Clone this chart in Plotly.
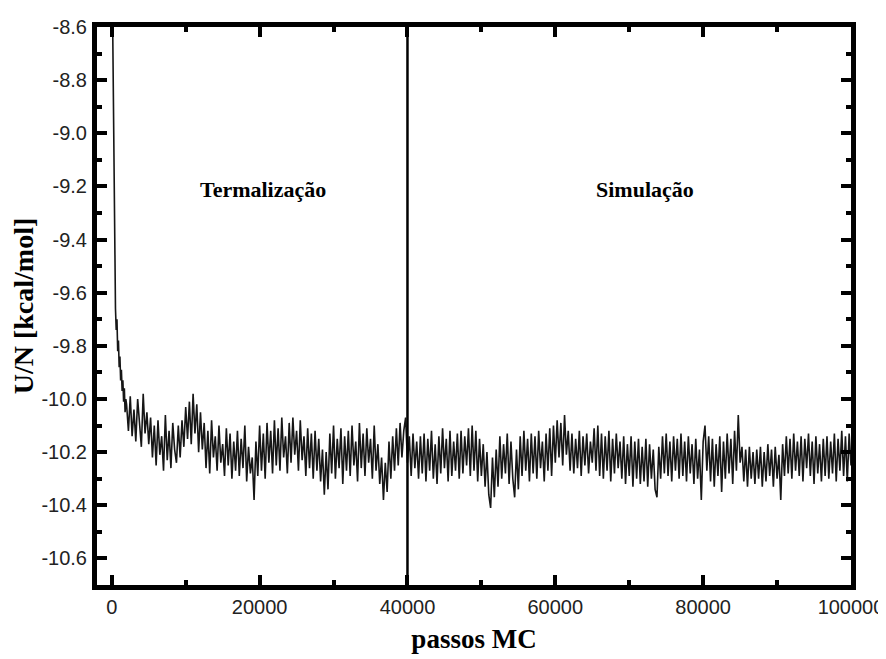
import plotly.graph_objects as go

# Energia por molécula ao longo dos passos de Monte Carlo

# início da corrida: queda rápida da energia
passos_inicio = [0, 100, 200, 300, 400, 500, 600, 700, 800, 900,
                 1000, 1100, 1200, 1300, 1400, 1500, 1600, 1700, 1800, 1900]
energia_inicio = [-8.25, -8.60, -8.95, -9.30, -9.60, -9.66, -9.74, -9.70, -9.82, -9.78,
                  -9.88, -9.84, -9.93, -9.89, -9.97, -9.93, -10.01, -9.96, -10.05, -10.00]

# resto da corrida, um valor a cada 250 passos a partir de 2000
passo_amostra = 250
passo_primeiro = 2000
energia_resto = [
    # 2000 - 6750
    -10.02, -10.12, -9.99, -10.14, -10.04, -10.16, -10.00, -10.11, -10.18, -9.98,
    -10.13, -10.05, -10.17, -10.07, -10.22, -10.10, -10.25, -10.08, -10.21, -10.14,
    # 7000 - 11750
    -10.27, -10.06, -10.23, -10.12, -10.26, -10.09, -10.19, -10.24, -10.10, -10.22,
    -10.08, -10.18, -10.03, -10.15, -10.01, -10.17, -9.98, -10.13, -10.02, -10.20,
    # 12000 - 16750
    -10.05, -10.19, -10.09, -10.26, -10.12, -10.28, -10.08, -10.22, -10.14, -10.27,
    -10.10, -10.24, -10.17, -10.29, -10.11, -10.25, -10.13, -10.30, -10.16, -10.27,
    # 17000 - 21750
    -10.12, -10.29, -10.15, -10.26, -10.10, -10.31, -10.18, -10.28, -10.22, -10.38,
    -10.16, -10.29, -10.10, -10.27, -10.13, -10.30, -10.09, -10.24, -10.12, -10.28,
    # 22000 - 26750
    -10.08, -10.25, -10.11, -10.27, -10.07, -10.22, -10.14, -10.28, -10.09, -10.24,
    -10.07, -10.21, -10.12, -10.27, -10.08, -10.23, -10.14, -10.29, -10.11, -10.26,
    # 27000 - 31750
    -10.13, -10.30, -10.12, -10.27, -10.15, -10.31, -10.19, -10.36, -10.20, -10.34,
    -10.13, -10.28, -10.10, -10.30, -10.15, -10.26, -10.11, -10.32, -10.14, -10.27,
    # 32000 - 36750
    -10.12, -10.29, -10.10, -10.25, -10.16, -10.31, -10.09, -10.26, -10.13, -10.29,
    -10.11, -10.24, -10.15, -10.30, -10.10, -10.27, -10.17, -10.32, -10.22, -10.38,
    # 37000 - 41750
    -10.24, -10.35, -10.16, -10.30, -10.14, -10.27, -10.11, -10.25, -10.09, -10.22,
    -10.12, -10.07, -10.24, -10.14, -10.29, -10.13, -10.26, -10.16, -10.30, -10.14,
    # 42000 - 46750
    -10.28, -10.13, -10.31, -10.15, -10.27, -10.12, -10.30, -10.17, -10.32, -10.14,
    -10.28, -10.11, -10.26, -10.15, -10.31, -10.12, -10.29, -10.16, -10.27, -10.13,
    # 47000 - 51750
    -10.30, -10.12, -10.28, -10.14, -10.25, -10.11, -10.29, -10.10, -10.27, -10.12,
    -10.31, -10.15, -10.29, -10.17, -10.33, -10.20, -10.36, -10.41, -10.22, -10.37,
    # 52000 - 56750
    -10.19, -10.33, -10.14, -10.30, -10.17, -10.28, -10.13, -10.32, -10.16, -10.30,
    -10.37, -10.19, -10.34, -10.14, -10.29, -10.12, -10.27, -10.15, -10.31, -10.13,
    # 57000 - 61750
    -10.28, -10.14, -10.30, -10.12, -10.26, -10.16, -10.31, -10.13, -10.27, -10.11,
    -10.29, -10.10, -10.24, -10.08, -10.22, -10.09, -10.25, -10.06, -10.21, -10.12,
    # 62000 - 66750
    -10.27, -10.13, -10.28, -10.15, -10.26, -10.12, -10.29, -10.14, -10.25, -10.13,
    -10.28, -10.16, -10.24, -10.11, -10.27, -10.10, -10.29, -10.13, -10.30, -10.14,
    # 67000 - 71750
    -10.27, -10.12, -10.31, -10.15, -10.28, -10.13, -10.26, -10.16, -10.30, -10.14,
    -10.32, -10.17, -10.29, -10.14, -10.33, -10.16, -10.30, -10.15, -10.32, -10.18,
    # 72000 - 76750
    -10.31, -10.15, -10.33, -10.17, -10.30, -10.19, -10.34, -10.37, -10.18, -10.30,
    -10.14, -10.28, -10.13, -10.29, -10.16, -10.31, -10.14, -10.27, -10.15, -10.30,
    # 77000 - 81750
    -10.13, -10.29, -10.16, -10.31, -10.14, -10.28, -10.17, -10.32, -10.15, -10.30,
    -10.19, -10.38, -10.16, -10.10, -10.27, -10.14, -10.31, -10.15, -10.33, -10.17,
    # 82000 - 86750
    -10.29, -10.14, -10.35, -10.16, -10.30, -10.13, -10.28, -10.15, -10.32, -10.12,
    -10.27, -10.06, -10.24, -10.18, -10.31, -10.19, -10.33, -10.18, -10.30, -10.20,
    # 87000 - 91750
    -10.32, -10.19, -10.30, -10.18, -10.33, -10.20, -10.31, -10.17, -10.29, -10.19,
    -10.33, -10.18, -10.30, -10.21, -10.38, -10.17, -10.29, -10.14, -10.28, -10.15,
    # 92000 - 96750
    -10.30, -10.13, -10.27, -10.16, -10.29, -10.14, -10.31, -10.15, -10.26, -10.13,
    -10.29, -10.16, -10.32, -10.14, -10.28, -10.17, -10.31, -10.15, -10.29, -10.14,
    # 97000 - 100000
    -10.30, -10.16, -10.28, -10.13, -10.31, -10.15, -10.27, -10.12, -10.29, -10.14,
    -10.31, -10.13, -10.25,
]

fim_termalizacao = 40000

x_ticks = [0, 20000, 40000, 60000, 80000, 100000]
x_ticktext = ["0", "20000", "40000", "60000", "80000", "100000"]
y_ticks = [-8.6, -8.8, -9.0, -9.2, -9.4, -9.6, -9.8, -10.0, -10.2, -10.4, -10.6]
y_ticktext = ["-8.6", "-8.8", "-9.0", "-9.2", "-9.4", "-9.6", "-9.8",
              "-10.0", "-10.2", "-10.4", "-10.6"]

passos_resto = [passo_primeiro + passo_amostra * i for i in range(len(energia_resto))]
passos = passos_inicio + passos_resto
energia = energia_inicio + energia_resto

serif = "Liberation Serif, Times New Roman, serif"
sans = "Liberation Sans, Arial, sans-serif"

fig = go.Figure()
fig.add_trace(go.Scatter(
    x=passos, y=energia,
    mode="lines",
    line=dict(color="#161616", width=1.6),
    showlegend=False))

# linha que separa termalização e simulação
fig.add_shape(type="line", xref="x", yref="paper",
              x0=fim_termalizacao, x1=fim_termalizacao, y0=0, y1=1,
              line=dict(color="black", width=2.5))

fig.add_annotation(x=20400, y=-9.21, text="<b>Termalização</b>", showarrow=False,
                   font=dict(family=serif, size=22, color="black"))
fig.add_annotation(x=72100, y=-9.21, text="<b>Simulação</b>", showarrow=False,
                   font=dict(family=serif, size=22, color="black"))

eixo = dict(showline=True, linewidth=5, linecolor="black", mirror="allticks",
            ticks="inside", ticklen=10, tickwidth=4, tickcolor="black",
            showgrid=False, zeroline=False, automargin=False,
            tickfont=dict(family=sans, size=20, color="#222222"))

fig.update_xaxes(range=[-2000, 100000], tickvals=x_ticks, ticktext=x_ticktext,
                 minor=dict(dtick=10000, tick0=0, ticks="inside", ticklen=5,
                            tickwidth=4, tickcolor="black", showgrid=False),
                 title=dict(text="<b>passos MC</b>", standoff=14,
                            font=dict(family=serif, size=27, color="black")),
                 **eixo)
fig.update_yaxes(range=[-10.7, -8.6], tickvals=y_ticks, ticktext=y_ticktext,
                 ticklabelstandoff=1,
                 minor=dict(dtick=0.1, tick0=-8.6, ticks="inside", ticklen=5,
                            tickwidth=4, tickcolor="black", showgrid=False),
                 title=dict(text="<b>U/N [kcal/mol]</b>", standoff=8,
                            font=dict(family=serif, size=28, color="black")),
                 **eixo)

# a página desloca a figura 8 px para a direita e para baixo; as margens compensam
fig.update_layout(width=886, height=659,
                  margin=dict(l=89, r=43, t=19, b=82),
                  plot_bgcolor="white", paper_bgcolor="white")

fig.write_html("out.html")
